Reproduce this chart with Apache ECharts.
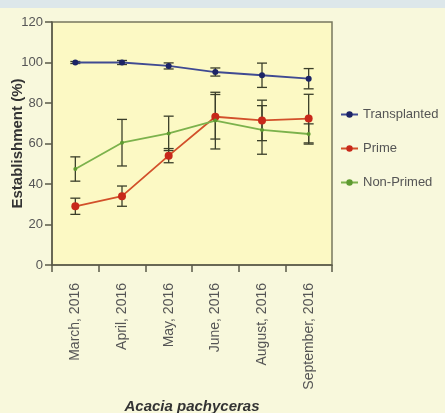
<!DOCTYPE html>
<html lang="en">
<head>
    <meta charset="UTF-8">
    <title>Acacia pachyceras establishment</title>
    <script src="https://cdn.jsdelivr.net/npm/echarts/dist/echarts.min.js"></script>
    <style>
        html, body { margin: 0; padding: 0; background: #f8f8dc; }
    </style>
</head>
<body>
    <div id="chart" style="width: 445px; height: 413px;"></div>

    <script>
        // data (mean and error bar half-length)
        var months = ['March, 2016', 'April, 2016', 'May, 2016', 'June, 2016', 'August, 2016', 'September, 2016'];
        var transplanted = [100, 100, 98.3, 95.3, 93.7, 92];
        var transplantedErr = [0.5, 1, 1.5, 2, 6, 5];
        var prime = [29, 34, 54, 73.2, 71.4, 72.3];
        var primeErr = [4, 5, 3.5, 11, 10, 12];
        var nonPrimed = [47.4, 60.4, 65, 71.3, 66.7, 64.7];
        var nonPrimedErr = [6, 11.5, 8.5, 14, 12, 5];

        var chart = echarts.init(document.getElementById('chart'));

        function errorData(means, errs) {
            return means.map(function (m, i) {
                return [i, m - errs[i], m + errs[i]];
            });
        }

        // vertical bar with caps for each point
        function errorSeries(name, means, errs) {
            return {
                type: 'custom',
                name: name + ' err',
                data: errorData(means, errs),
                z: 1,
                renderItem: function (params, api) {
                    var x = api.value(0);
                    var lo = api.coord([x, api.value(1)]);
                    var hi = api.coord([x, api.value(2)]);
                    var w = 5;
                    var style = { stroke: '#3b3f2a', lineWidth: 1.3 };
                    return {
                        type: 'group',
                        children: [
                            { type: 'line', shape: { x1: hi[0], y1: hi[1], x2: lo[0], y2: lo[1] }, style: style },
                            { type: 'line', shape: { x1: hi[0] - w, y1: hi[1], x2: hi[0] + w, y2: hi[1] }, style: style },
                            { type: 'line', shape: { x1: lo[0] - w, y1: lo[1], x2: lo[0] + w, y2: lo[1] }, style: style }
                        ]
                    };
                }
            };
        }

        var axisColor = '#5a5a48';

        var options = {
            backgroundColor: '#f8f8dc',
            animation: false,
            graphic: [
                {
                    type: 'rect',
                    left: 0, top: 0,
                    shape: { width: 445, height: 8 },
                    style: { fill: '#dde7ea' },
                    z: -1
                }
            ],
            grid: {
                left: 52,
                right: 113,
                top: 22,
                bottom: 148,
                outerBoundsMode: 'none',
                containLabel: false,
                show: true,
                backgroundColor: '#fcf9c4',
                borderWidth: 1.5,
                borderColor: '#77775e'
            },
            legend: {
                orient: 'vertical',
                left: 335,
                top: 103,
                itemGap: 21,
                itemWidth: 17,
                itemHeight: 8,
                textStyle: { fontFamily: 'Liberation Sans', fontSize: 13, color: '#555' },
                data: ['Transplanted', 'Prime', 'Non-Primed']
            },
            xAxis: {
                type: 'category',
                data: months,
                boundaryGap: true,
                name: 'Acacia pachyceras',
                nameLocation: 'middle',
                nameGap: 134,
                nameMoveOverlap: false,
                nameTextStyle: {
                    fontFamily: 'Liberation Sans',
                    fontSize: 15,
                    fontWeight: 'bold',
                    fontStyle: 'italic',
                    color: '#333'
                },
                axisLine: { show: true, lineStyle: { color: axisColor, width: 1.5 } },
                axisTick: { show: true, alignWithLabel: false, length: 7, lineStyle: { color: axisColor, width: 1.5 } },
                axisLabel: {
                    rotate: 90,
                    margin: 18,
                    fontFamily: 'Liberation Sans',
                    fontSize: 14,
                    color: '#555'
                }
            },
            yAxis: {
                type: 'value',
                min: 0,
                max: 120,
                interval: 20,
                name: 'Establishment (%)',
                nameLocation: 'middle',
                nameGap: 27,
                nameMoveOverlap: false,
                nameTextStyle: {
                    fontFamily: 'Liberation Sans',
                    fontSize: 15,
                    fontWeight: 'bold',
                    color: '#333'
                },
                splitLine: { show: false },
                axisLine: { show: true, lineStyle: { color: axisColor, width: 1.5 } },
                axisTick: { show: true, length: 7, lineStyle: { color: axisColor, width: 1.5 } },
                axisLabel: {
                    margin: 9,
                    fontFamily: 'Liberation Sans',
                    fontSize: 13,
                    color: '#555'
                }
            },
            series: [
                errorSeries('Transplanted', transplanted, transplantedErr),
                errorSeries('Prime', prime, primeErr),
                errorSeries('Non-Primed', nonPrimed, nonPrimedErr),
                {
                    name: 'Transplanted',
                    type: 'line',
                    data: transplanted,
                    symbol: 'circle',
                    symbolSize: 6,
                    z: 3,
                    lineStyle: { color: '#3f4a92', width: 1.8 },
                    itemStyle: { color: '#1c2466' }
                },
                {
                    name: 'Prime',
                    type: 'line',
                    data: prime,
                    symbol: 'circle',
                    symbolSize: 8,
                    z: 3,
                    lineStyle: { color: '#d2502a', width: 1.8 },
                    itemStyle: { color: '#c8281a' }
                },
                {
                    name: 'Non-Primed',
                    type: 'line',
                    data: nonPrimed,
                    symbol: 'circle',
                    symbolSize: 4,
                    z: 3,
                    lineStyle: { color: '#7cb24c', width: 1.8 },
                    itemStyle: { color: '#5e9a30' }
                }
            ]
        };

        chart.setOption(options);
    </script>
</body>
</html>
